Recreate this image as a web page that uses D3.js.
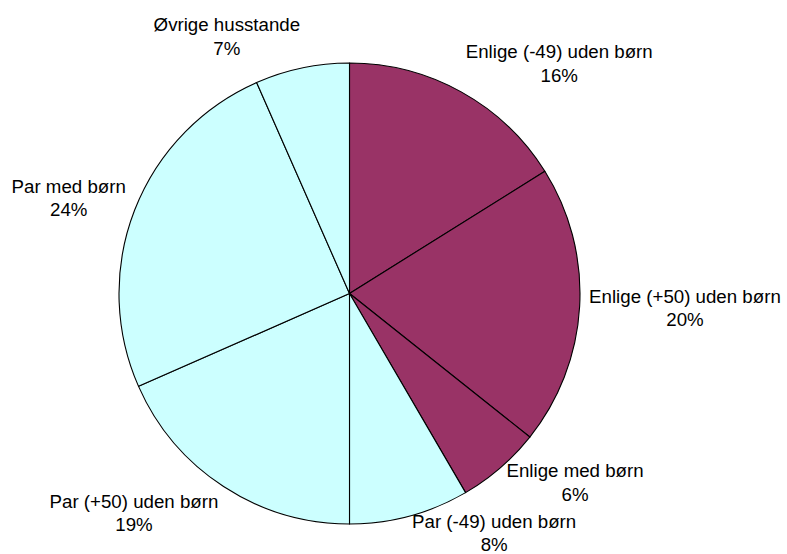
<!DOCTYPE html>
<html lang="da">
<head>
<meta charset="UTF-8">
<title>Husstande</title>
<script src="https://cdn.jsdelivr.net/npm/d3@7"></script>
<style>
  body { margin: 0; background: #fff; }
  text { font-family: "Liberation Sans", Arial, sans-serif; font-size: 18.7px; fill: #000; }
</style>
</head>
<body>

<script type="text/javascript">
  // Data
  var categories = ["Enlige (-49) uden børn", "Enlige (+50) uden børn", "Enlige med børn",
                    "Par (-49) uden børn", "Par (+50) uden børn", "Par med børn", "Øvrige husstande"];
  var shares = [16.1, 19.6, 5.9, 8.4, 18.4, 25.0, 6.6];
  var shownPct = ["16%", "20%", "6%", "8%", "19%", "24%", "7%"];
  var groupColors = ["#993366", "#993366", "#993366", "#CCFFFF", "#CCFFFF", "#CCFFFF", "#CCFFFF"];

  var w = 787;
  var h = 554;
  var cx = 349.5, cy = 293.5, r = 230.5;
  var labelDist = 240;   // distance of label anchor from centre
  var lineGap = 23.5;

  var svg = d3.select("body")
    .append("svg")
    .attr("width", w)
    .attr("height", h);

  var pie = d3.pie().sort(null).value(function(d) { return d; });
  var arcs = pie(shares);

  var arc = d3.arc().innerRadius(0).outerRadius(r);

  var g = svg.append("g").attr("transform", "translate(" + cx + "," + cy + ")");

  g.selectAll("path")
    .data(arcs)
    .enter()
    .append("path")
    .attr("d", arc)
    .attr("fill", function(d, i) { return groupColors[i]; })
    .attr("stroke", "#000")
    .attr("stroke-width", 1.1)
    .attr("stroke-linejoin", "round");

  // Labels: two lines, placed outside the slice, kept inside the picture
  var labels = g.selectAll("g.lbl")
    .data(arcs)
    .enter()
    .append("g")
    .attr("class", "lbl");

  var placed = [];
  labels.each(function(d, i) {
    var sel = d3.select(this);
    var t1 = sel.append("text").attr("text-anchor", "middle").text(categories[i]);
    var t2 = sel.append("text").attr("text-anchor", "middle").text(shownPct[i]);

    var bw = Math.max(t1.node().getComputedTextLength(), t2.node().getComputedTextLength());
    var bh = 45;
    var a = (d.startAngle + d.endAngle) / 2;
    var s = Math.sin(a), c = Math.cos(a);

    var px = s * labelDist;
    var py = -c * labelDist;
    var mx = px + (s >= 0 ? 1 : -1) * bw / 2;
    var my = py - c * bh / 2;

    var b1 = my - 5.5;
    // clamp to the bottom edge
    var maxB1 = (h - 3 - cy) - lineGap;
    if (b1 > maxB1) b1 = maxB1;

    placed.push({ t1: t1, t2: t2, x: mx, b1: b1, w: bw });
  });

  // push a label up when the next one (clockwise) crowds it
  for (var k = placed.length - 1; k > 0; k--) {
    var cur = placed[k], prev = placed[k - 1];
    var xOverlap = Math.abs(cur.x - prev.x) < (cur.w + prev.w) / 2;
    if (xOverlap && prev.b1 < cur.b1 && prev.b1 > cur.b1 - lineGap - 27) {
      prev.b1 = cur.b1 - lineGap - 27;
    }
  }

  placed.forEach(function(p) {
    p.t1.attr("x", p.x).attr("y", p.b1);
    p.t2.attr("x", p.x).attr("y", p.b1 + lineGap);
  });
</script>

</body>
</html>
